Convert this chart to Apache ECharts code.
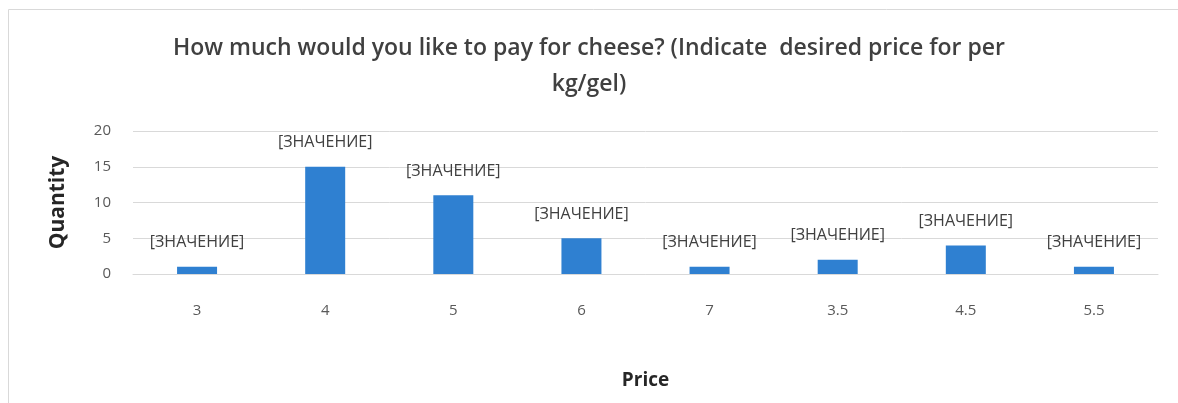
<!DOCTYPE html>
<html>
<head>
<meta charset="utf-8">
<script src="https://cdn.jsdelivr.net/npm/echarts@6/dist/echarts.min.js"></script>
<style>
  html, body { margin: 0; padding: 0; background: #fff; }
  #chart { width: 1178px; height: 403px; }
</style>
</head>
<body>
<div id="chart"></div>
<script>
const prices = ['3', '4', '5', '6', '7', '3.5', '4.5', '5.5']
const quantities = [1, 15, 11, 5, 1, 2, 4, 1]
const yTicks = { min: 0, max: 20, interval: 5 }
const labelText = '[ЗНАЧЕНИЕ]'

const chart = echarts.init(document.getElementById('chart'))
const font = '"Open Sans", "DejaVu Sans", sans-serif'

chart.setOption({
  animation: false,
  textStyle: { fontFamily: font },
  graphic: [
    {
      type: 'rect',
      shape: { x: 8.5, y: 9.5, width: 1200, height: 420 },
      style: { fill: 'none', stroke: '#d9d9d9', lineWidth: 1 }
    }
  ],
  title: {
    text: 'How much would you like to pay for cheese? (Indicate  desired price for per\nkg/gel)',
    left: 'center',
    top: 25,
    textStyle: {
      fontFamily: font,
      fontSize: 23,
      fontWeight: 600,
      color: '#404040',
      lineHeight: 36
    }
  },
  grid: { left: 133, right: 20, top: 131, bottom: 129 },
  xAxis: {
    type: 'category',
    data: prices,
    name: 'Price',
    nameLocation: 'middle',
    nameGap: 97,
    nameTextStyle: { fontSize: 19, fontWeight: 'bold', color: '#262626' },
    axisLine: { lineStyle: { color: '#d9d9d9' } },
    axisTick: { show: false },
    axisLabel: { color: '#595959', fontSize: 15, margin: 29 }
  },
  yAxis: {
    type: 'value',
    min: yTicks.min,
    max: yTicks.max,
    interval: yTicks.interval,
    name: 'Quantity',
    nameLocation: 'middle',
    nameGap: 64,
    nameTextStyle: { fontSize: 21, fontWeight: 'bold', color: '#262626' },
    axisLine: { show: false },
    axisTick: { show: false },
    axisLabel: { color: '#595959', fontSize: 15, margin: 22 },
    splitLine: { lineStyle: { color: '#d9d9d9' } }
  },
  series: [
    {
      type: 'bar',
      data: quantities,
      barWidth: 40,
      itemStyle: { color: '#2f80d1' },
      label: {
        show: true,
        position: 'top',
        distance: 16,
        formatter: labelText,
        color: '#404040',
        fontSize: 16
      }
    }
  ]
})
</script>
</body>
</html>
